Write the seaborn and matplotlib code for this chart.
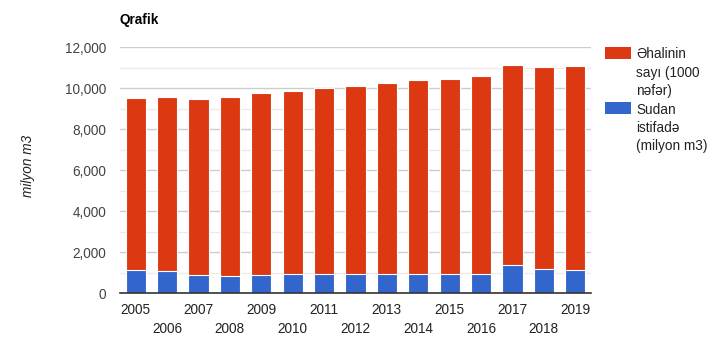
import matplotlib
matplotlib.use("Agg")
import matplotlib.pyplot as plt
from matplotlib.patches import Rectangle
import seaborn as sns
import pandas as pd

years = [str(y) for y in range(2005, 2020)]
# population segment (thousand people) and water use (million m3)
population = [8405, 8503, 8600, 8747, 8893, 8942, 9088, 9185, 9332, 9478,
              9527, 9673, 9771, 9854, 9966]
water_use = [1122, 1073, 878, 829, 878, 927, 927, 927, 927, 927,
             927, 927, 1366, 1186, 1122]
y_ticks = [0, 2000, 4000, 6000, 8000, 10000, 12000]

RED = "#dc3912"
BLUE = "#3366cc"

sns.set_theme(style="white")
plt.rcParams["font.family"] = ["Liberation Sans", "DejaVu Sans"]

df = pd.DataFrame({"year": years, "population": population, "water": water_use})
df["total"] = df["population"] + df["water"]

W, H = 727, 349
fig = plt.figure(figsize=(W / 100, H / 100), dpi=100)
ax = fig.add_axes([120 / W, 1 - 293.3 / H, (591 - 120) / W, 246 / H])

sns.barplot(data=df, x="year", y="total", color=RED, saturation=1,
            width=0.64, edgecolor="white", linewidth=0.8, ax=ax, zorder=3)
sns.barplot(data=df, x="year", y="water", color=BLUE, saturation=1,
            width=0.64, edgecolor="white", linewidth=0.8, ax=ax, zorder=4)

ax.set_xlim(-0.5, len(years) - 0.5)
ax.set_ylim(0, 12000)
ax.set_yticks(y_ticks)
ax.set_yticklabels([f"{v:,}" for v in y_ticks])
ax.set_yticks(range(1000, 12000, 2000), minor=True)
ax.grid(axis="y", which="major", color="#cccccc", linewidth=1, zorder=0)
ax.grid(axis="y", which="minor", color="#ebebeb", linewidth=1, zorder=0)
ax.set_axisbelow(True)

ax.set_xticks(range(len(years)))
ax.set_xticklabels([y if i % 2 == 0 else "\n" + y for i, y in enumerate(years)],
                   va="top", linespacing=1.45)
ax.tick_params(axis="x", length=0, pad=7, labelsize=9.8, labelcolor="#222222")
ax.tick_params(axis="y", which="both", length=0, pad=10, labelsize=9.8,
               labelcolor="#444444")

for s in ["top", "right", "left"]:
    ax.spines[s].set_visible(False)
ax.spines["bottom"].set_color("#333333")
ax.spines["bottom"].set_linewidth(1.2)
ax.spines["bottom"].set_zorder(5)

ax.set_xlabel("")
ax.set_ylabel("")
fig.text(28 / W, 1 - 166 / H, "milyon m3", rotation=90, style="italic",
         fontsize=9.8, color="#222222", ha="center", va="center")

fig.text(120 / W, 1 - 24 / H, "Qrafik", fontsize=9.8, fontweight="bold",
         color="#000000", ha="left", va="baseline")

# legend
legend_items = [(RED, "Əhalinin\nsayı (1000\nnəfər)", 47),
                (BLUE, "Sudan\nistifadə\n(milyon m3)", 102)]
for color, label, top in legend_items:
    fig.add_artist(Rectangle((605 / W, 1 - (top + 12) / H), 26 / W, 12 / H,
                             transform=fig.transFigure, facecolor=color,
                             edgecolor="none"))
    fig.text(636 / W, 1 - (top + 0.5) / H, label, fontsize=9.8, color="#222222",
             ha="left", va="top", linespacing=1.38)

fig.savefig("out.png", dpi=100)
